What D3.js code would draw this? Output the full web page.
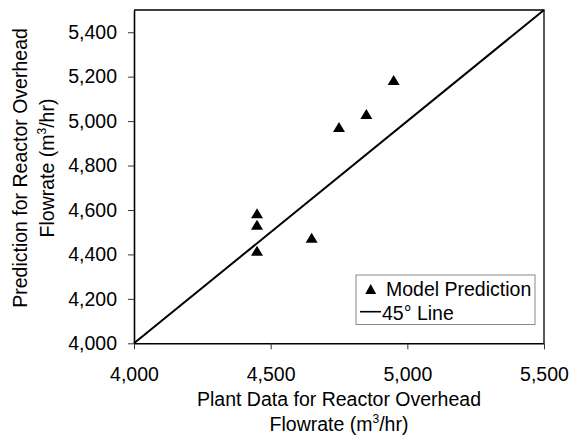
<!DOCTYPE html>
<html>
<head>
<meta charset="utf-8">
<script src="https://cdn.jsdelivr.net/npm/d3@7"></script>
<style>
  html, body { margin: 0; padding: 0; background: #fff; }
  svg { display: block; font-family: "Liberation Sans", Arial, Helvetica, sans-serif; }
</style>
</head>
<body>
<svg id="chart" width="571" height="437"></svg>
<script>
// Plant data vs. model prediction for reactor overhead flowrate (m3/hr)
const plantData  = [4450, 4450, 4450, 4650, 4750, 4850, 4950];
const prediction = [4585, 4534, 4417, 4475, 4974, 5032, 5185];

const xTicks = [4000, 4500, 5000, 5500];
const yTicks = [4000, 4200, 4400, 4600, 4800, 5000, 5200, 5400];
const domain = [4000, 5500];
const parityLine = [4000, 5500];

const legendLabels = ["Model Prediction", "45\u00B0 Line"];

(function () {
  const svg = d3.select("#chart");
  const plot = { left: 134, right: 544, top: 10, bottom: 343.3 };
  const fontSize = 19.5;

  const x = d3.scaleLinear().domain(domain).range([plot.left, plot.right]);
  const y = d3.scaleLinear().domain(domain).range([plot.bottom, plot.top]);
  const fmt = d3.format(",");

  // frame (top and right)
  svg.append("path")
    .attr("d", `M${plot.left},${plot.top}H${plot.right}V${plot.bottom}`)
    .attr("fill", "none").attr("stroke", "#000").attr("stroke-width", 1.3);

  // x axis
  const xAxis = svg.append("g")
    .attr("transform", `translate(0,${plot.bottom})`)
    .call(d3.axisBottom(x).tickValues(xTicks).tickFormat(fmt).tickSize(6).tickPadding(18).tickSizeOuter(0));
  xAxis.select(".domain").attr("stroke-width", 1.6);
  xAxis.selectAll(".tick line").attr("stroke", "#333").attr("stroke-width", 1);
  xAxis.selectAll("text").attr("font-size", fontSize).attr("font-family", "Liberation Sans, Arial, sans-serif").attr("fill", "#000");

  // y axis
  const yAxis = svg.append("g")
    .attr("transform", `translate(${plot.left},0)`)
    .call(d3.axisLeft(y).tickValues(yTicks).tickFormat(fmt).tickSize(6).tickPadding(11).tickSizeOuter(0));
  yAxis.select(".domain").attr("stroke-width", 1.6);
  yAxis.selectAll(".tick line").attr("stroke", "#333").attr("stroke-width", 1);
  yAxis.selectAll("text").attr("font-size", fontSize).attr("font-family", "Liberation Sans, Arial, sans-serif").attr("fill", "#000");

  // 45 degree parity line
  svg.append("line")
    .attr("x1", x(parityLine[0])).attr("y1", y(parityLine[0]))
    .attr("x2", x(parityLine[1])).attr("y2", y(parityLine[1]))
    .attr("stroke", "#000").attr("stroke-width", 2);

  // triangle marker
  const tri = (cx, cy, w = 12, h = 10) =>
    `M${cx},${cy - h / 2}L${cx + w / 2},${cy + h / 2}L${cx - w / 2},${cy + h / 2}Z`;

  svg.append("g").selectAll("path")
    .data(plantData.map((d, i) => [d, prediction[i]]))
    .join("path")
    .attr("d", d => tri(x(d[0]), y(d[1])))
    .attr("fill", "#000");

  // legend
  const lg = svg.append("g");
  lg.append("rect")
    .attr("x", 356).attr("y", 275).attr("width", 179).attr("height", 49.5)
    .attr("fill", "#fff").attr("stroke", "#888").attr("stroke-width", 1);
  lg.append("path").attr("d", tri(370.7, 289, 11, 10)).attr("fill", "#000");
  lg.append("text").attr("x", 386).attr("y", 295.5).attr("font-size", fontSize).text(legendLabels[0]);
  lg.append("line").attr("x1", 360).attr("x2", 381).attr("y1", 311.7).attr("y2", 311.7)
    .attr("stroke", "#000").attr("stroke-width", 1.6);
  lg.append("text").attr("x", 382).attr("y", 319.5).attr("font-size", fontSize).text(legendLabels[1]);

  // axis titles
  function flowrateLine(sel) {
    sel.append("tspan").text("Flowrate (m");
    sel.append("tspan").attr("font-size", 12).attr("dy", -8).text("3");
    sel.append("tspan").attr("dy", 8).text("/hr)");
  }

  const xTitle = svg.append("g").attr("text-anchor", "middle").attr("font-size", fontSize);
  xTitle.append("text").attr("x", (plot.left + plot.right) / 2).attr("y", 406).text("Plant Data for Reactor Overhead");
  xTitle.append("text").attr("x", (plot.left + plot.right) / 2).attr("y", 430.5).call(flowrateLine);

  const yc = 168;
  const yTitle = svg.append("g").attr("text-anchor", "middle").attr("font-size", fontSize);
  yTitle.append("text").attr("transform", `translate(27,${yc}) rotate(-90)`).text("Prediction for Reactor Overhead");
  yTitle.append("text").attr("transform", `translate(54,${yc}) rotate(-90)`).call(flowrateLine);
})();
</script>
</body>
</html>
